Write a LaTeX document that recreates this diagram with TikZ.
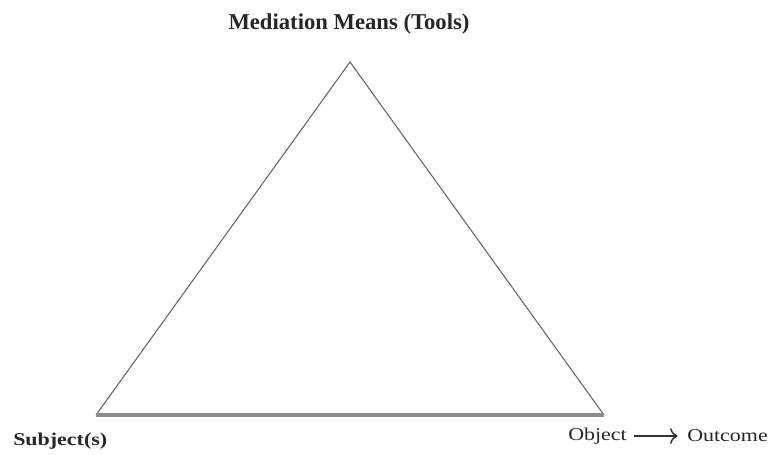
\documentclass[tikz,border=0pt]{standalone}
\usepackage{fontspec}
\setmainfont{Liberation Serif}
\newfontfamily\wideserif[FakeStretch=1.22]{Liberation Serif}
\usetikzlibrary{positioning,arrows.meta}
\tikzset{
  label/.style={inner sep=0pt, text=black!85},
  side/.style={draw=black!60, line width=0.8pt},
  base/.style={draw=black!45, line width=2.4pt},
}
\begin{document}
\begin{tikzpicture}[x=0.75pt,y=-0.75pt]
  \useasboundingbox (0,0) rectangle (775,454);
  \coordinate (tools) at (350,62);
  \coordinate (subj) at (96,415);
  \coordinate (obj) at (604,415);
  \draw[side] (subj) -- (tools) -- (obj);
  \draw[base] (subj) -- (obj);
  \node[label, font=\fontsize{17}{19}\selectfont\bfseries] (toolslbl) at (349,24) {Mediation Means (Tools)};
  \node[label, font=\wideserif\fontsize{13.5}{15}\selectfont\bfseries, anchor=west] (subjlbl) at (13,441) {Subject(s)};
  \node[label, font=\wideserif\fontsize{13.5}{15}\selectfont, anchor=west] (objlbl) at (568,436) {Object};
  \node[label, font=\wideserif\fontsize{13.5}{15}\selectfont, anchor=west] (outlbl) at (687,436) {Outcome};
  \draw[-{To[scale=1.4]}, line width=1.1pt, black!80] ([xshift=5pt]objlbl.east) -- ([xshift=-7pt]outlbl.west);
\end{tikzpicture}
\end{document}
